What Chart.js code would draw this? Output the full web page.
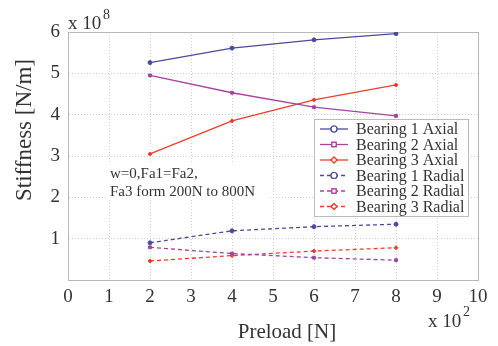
<!DOCTYPE html>
<html>
<head>
<meta charset="utf-8">
<script src="https://cdn.jsdelivr.net/npm/chart.js@4/dist/chart.umd.min.js"></script>
<style>
  html, body { margin: 0; padding: 0; background: #fff; }
  #wrap { width: 498px; height: 346px; position: relative; }
</style>
</head>
<body>
<div id="wrap"><canvas id="stiff"></canvas></div>
<script>
// preload (x 10^2 N) and stiffness (x 10^8 N/m)
var preload = [2, 4, 6, 8];
var b1Axial = [5.26, 5.61, 5.81, 5.96];
var b2Axial = [4.95, 4.53, 4.18, 3.97];
var b3Axial = [3.05, 3.85, 4.36, 4.72];
var b1Radial = [0.90, 1.19, 1.29, 1.35];
var b2Radial = [0.79, 0.64, 0.54, 0.48];
var b3Radial = [0.46, 0.59, 0.70, 0.78];
var xTicks = [0, 1, 2, 3, 4, 5, 6, 7, 8, 9, 10];
var yTicks = [1, 2, 3, 4, 5, 6];
var names = ['Bearing 1 Axial', 'Bearing 2 Axial', 'Bearing 3 Axial',
             'Bearing 1 Radial', 'Bearing 2 Radial', 'Bearing 3 Radial'];

var c1 = '#4b4b9e', c2 = '#a4449f', c3 = '#f03c2a';
var serif = '"Liberation Serif", "Times New Roman", serif';

function mk(label, vals, color, shape, dashed) {
    return {
        label: label,
        data: preload.map((x, i) => ({ x: x, y: vals[i] })),
        borderColor: color,
        backgroundColor: color,
        borderWidth: 1.3,
        borderDash: dashed ? [4, 3] : [],
        pointStyle: shape,
        pointRadius: 2,
        pointBorderWidth: 1,
        tension: 0
    };
}

var datasets = [
    mk(names[0], b1Axial, c1, 'circle', false),
    mk(names[1], b2Axial, c2, 'rect', false),
    mk(names[2], b3Axial, c3, 'rectRot', false),
    mk(names[3], b1Radial, c1, 'circle', true),
    mk(names[4], b2Radial, c2, 'rect', true),
    mk(names[5], b3Radial, c3, 'rectRot', true)
];

// white box behind the note, drawn before the datasets
var noteBg = {
    id: 'noteBg',
    beforeDatasetsDraw(chart) {
        var ctx = chart.ctx;
        ctx.save();
        ctx.fillStyle = '#fff';
        ctx.fillRect(106, 162, 162, 38);
        ctx.restore();
    }
};

var extras = {
    id: 'extras',
    afterDraw(chart) {
        var ctx = chart.ctx;
        ctx.save();
        ctx.fillStyle = '#333';
        ctx.textBaseline = 'alphabetic';

        // exponents
        ctx.font = '19px ' + serif;
        ctx.textAlign = 'left';
        ctx.fillText('x 10', 68, 29);
        ctx.font = '14px ' + serif;
        ctx.fillText('8', 103, 19);
        ctx.font = '19px ' + serif;
        ctx.fillText('x 10', 428, 327);
        ctx.font = '14px ' + serif;
        ctx.fillText('2', 463, 316);

        // axis titles
        ctx.font = '21px ' + serif;
        ctx.textAlign = 'center';
        ctx.fillText('Preload [N]', 287, 338);
        ctx.save();
        ctx.font = '23px ' + serif;
        ctx.translate(31, 130);
        ctx.rotate(-Math.PI / 2);
        ctx.fillText('Stiffness [N/m]', 0, 0);
        ctx.restore();

        // note
        ctx.font = '15px ' + serif;
        ctx.textAlign = 'left';
        ctx.fillText('w=0,Fa1=Fa2,', 110, 178);
        ctx.fillText('Fa3 form 200N to 800N', 110, 196);

        // legend
        var lx = 314, ly = 119, lw = 154, lh = 97;
        ctx.fillStyle = '#fff';
        ctx.fillRect(lx, ly, lw, lh);
        ctx.strokeStyle = '#bbb';
        ctx.lineWidth = 1;
        ctx.strokeRect(lx + 0.5, ly + 0.5, lw, lh);
        chart.data.datasets.forEach((ds, i) => {
            var y = 129 + i * 15.5;
            ctx.strokeStyle = ds.borderColor;
            ctx.lineWidth = 1.3;
            ctx.setLineDash(ds.borderDash);
            ctx.beginPath();
            ctx.moveTo(320, y);
            ctx.lineTo(348, y);
            ctx.stroke();
            ctx.setLineDash([]);
            ctx.fillStyle = '#fff';
            ctx.lineWidth = 1.2;
            Chart.helpers.drawPoint(ctx, { pointStyle: ds.pointStyle, radius: 3, borderWidth: 1.2 }, 334, y);
            ctx.fill();
            ctx.stroke();
            ctx.fillStyle = '#333';
            ctx.font = '16px ' + serif;
            ctx.fillText(ds.label, 356, y + 5);
        });
        ctx.restore();
    }
};

new Chart('stiff', {
    type: 'line',
    data: { datasets: datasets },
    plugins: [noteBg, extras],
    options: {
        responsive: true,
        maintainAspectRatio: false,
        animation: false,
        layout: { padding: { top: 32, right: 20, left: 0, bottom: 0 } },
        plugins: { legend: { display: false }, tooltip: { enabled: false } },
        scales: {
            x: {
                type: 'linear', min: 0, max: 10,
                afterBuildTicks: s => { s.ticks = xTicks.map(v => ({ value: v })); },
                afterFit: s => { s.height = 66; },
                grid: { color: '#cfcfcf', drawTicks: false, tickLength: 0 },
                border: { color: '#b8b8b8', width: 1, dash: [1, 2] },
                ticks: { color: '#333', padding: 6, font: { family: serif, size: 19 } }
            },
            y: {
                type: 'linear', min: 0, max: 6,
                afterBuildTicks: s => { s.ticks = yTicks.map(v => ({ value: v })); },
                afterFit: s => { s.width = 68; },
                grid: { color: '#cfcfcf', drawTicks: false, tickLength: 0 },
                border: { color: '#b8b8b8', width: 1, dash: [1, 2] },
                ticks: { color: '#333', padding: 8, font: { family: serif, size: 19 } }
            },
            x2: {
                type: 'linear', position: 'top', min: 0, max: 10,
                afterFit: s => { s.height = 0; },
                grid: { display: false },
                border: { color: '#b8b8b8', width: 1 },
                ticks: { display: false }
            },
            y2: {
                type: 'linear', position: 'right', min: 0, max: 6,
                afterFit: s => { s.width = 0; },
                grid: { display: false },
                border: { color: '#b8b8b8', width: 1 },
                ticks: { display: false }
            }
        }
    }
});
</script>
</body>
</html>
